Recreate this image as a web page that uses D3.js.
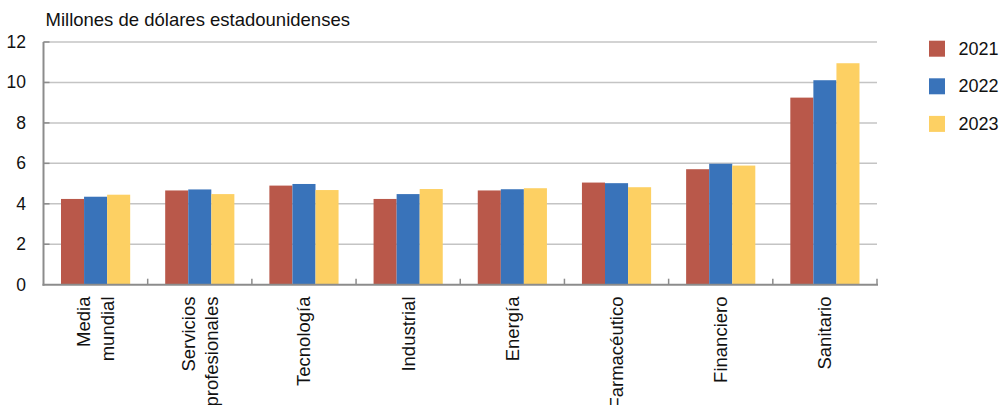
<!DOCTYPE html>
<html>
<head>
<meta charset="utf-8">
<script src="https://cdn.jsdelivr.net/npm/d3@7"></script>
<style>
  html, body { margin: 0; padding: 0; background: #fff; }
  svg { display: block; font-family: "Liberation Sans", Arial, Helvetica, sans-serif; }
</style>
</head>
<body>
<svg id="chart" width="1002" height="405"></svg>
<script>
// Data
const categories = [["Media", "mundial"], ["Servicios", "profesionales"], ["Tecnología"], ["Industrial"], ["Energía"], ["Farmacéutico"], ["Financiero"], ["Sanitario"]];
const seriesNames = ["2021", "2022", "2023"];
const values2021 = [4.24, 4.66, 4.90, 4.24, 4.66, 5.05, 5.71, 9.25];
const values2022 = [4.35, 4.71, 4.98, 4.48, 4.72, 5.02, 5.98, 10.11];
const values2023 = [4.45, 4.48, 4.68, 4.73, 4.77, 4.82, 5.89, 10.95];
const yTicks = [0, 2, 4, 6, 8, 10, 12];
const colors = ["#b9584a", "#3973ba", "#fdd063"];
const titleText = "Millones de dólares estadounidenses";

const series = [values2021, values2022, values2023];
const catKeys = categories.map(c => c.join(" "));

const svg = d3.select("#chart");
const pLeft = 43.5, pRight = 877, pTop = 42, pBottom = 284.7;

const x0 = d3.scaleBand().domain(catKeys).range([pLeft, pRight]).paddingInner(0).paddingOuter(0);
const bw = x0.bandwidth();
const x1 = d3.scaleBand().domain(seriesNames).range([bw * 0.168, bw * 0.832]).padding(0);
const y = d3.scaleLinear().domain([0, 12]).range([pBottom, pTop]);

// gridlines
svg.append("g").selectAll("line").data(yTicks.filter(d => d > 0)).join("line")
  .attr("x1", pLeft).attr("x2", pRight)
  .attr("y1", d => y(d)).attr("y2", d => y(d))
  .attr("stroke", "#c4c4c4").attr("stroke-width", 1.5);

// y tick marks (inside)
svg.append("g").selectAll("line").data(yTicks.filter(d => d > 0)).join("line")
  .attr("x1", pLeft).attr("x2", pLeft + 6)
  .attr("y1", d => y(d)).attr("y2", d => y(d))
  .attr("stroke", "#8c8c8c").attr("stroke-width", 1.5);

// y tick labels
svg.append("g").selectAll("text").data(yTicks).join("text")
  .attr("x", 26).attr("y", d => y(d))
  .attr("text-anchor", "end").attr("dominant-baseline", "central")
  .attr("font-size", 17.5).attr("fill", "#111")
  .text(d => d);

// bars
const groups = svg.append("g").selectAll("g").data(catKeys).join("g")
  .attr("transform", d => `translate(${x0(d)},0)`);
groups.selectAll("rect").data((d, i) => seriesNames.map((s, j) => ({ s, j, v: series[j][i] }))).join("rect")
  .attr("x", d => x1(d.s))
  .attr("width", x1.bandwidth())
  .attr("y", d => y(d.v))
  .attr("height", d => y(0) - y(d.v))
  .attr("fill", d => colors[d.j]);

// y axis line
svg.append("line").attr("x1", pLeft).attr("x2", pLeft).attr("y1", pTop).attr("y2", pBottom + 1)
  .attr("stroke", "#8c8c8c").attr("stroke-width", 2);

// x axis line
svg.append("line").attr("x1", pLeft - 1).attr("x2", pRight + 1).attr("y1", pBottom).attr("y2", pBottom)
  .attr("stroke", "#8c8c8c").attr("stroke-width", 2);

// x ticks at category boundaries (upward)
svg.append("g").selectAll("line").data(catKeys.slice(1).map(k => x0(k)).concat([pRight])).join("line")
  .attr("x1", d => d).attr("x2", d => d)
  .attr("y1", pBottom).attr("y2", pBottom - 6)
  .attr("stroke", "#8c8c8c").attr("stroke-width", 1.5);

// x labels (rotated)
const lineGap = 23.5;
const xl = svg.append("g").selectAll("g").data(categories).join("g")
  .attr("transform", (d, i) => `translate(${x0(catKeys[i]) + bw / 2},296.5) rotate(-90)`);
xl.each(function (lines) {
  const n = lines.length;
  d3.select(this).selectAll("text").data(lines).join("text")
    .attr("x", 0)
    .attr("y", (d, k) => (k - (n - 1) / 2) * lineGap)
    .attr("text-anchor", "end").attr("dominant-baseline", "central")
    .attr("font-size", 18.5).attr("fill", "#111")
    .text(d => d);
});

// title
svg.append("text").attr("x", 45.5).attr("y", 26)
  .attr("font-size", 18.5).attr("fill", "#111").text(titleText);

// legend
const lg = svg.append("g").selectAll("g").data(seriesNames).join("g")
  .attr("transform", (d, i) => `translate(929,${40.7 + i * 37.6})`);
lg.append("rect").attr("width", 16).attr("height", 16).attr("fill", (d, i) => colors[i]);
lg.append("text").attr("x", 29.5).attr("y", 8).attr("dominant-baseline", "central")
  .attr("font-size", 18).attr("fill", "#111").text(d => d);
</script>
</body>
</html>
